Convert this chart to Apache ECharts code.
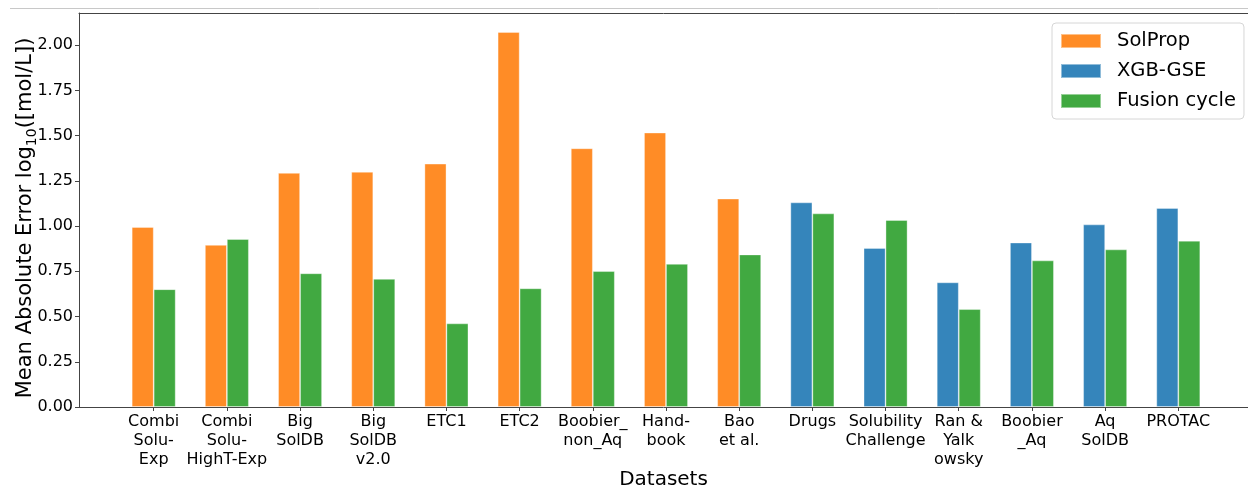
<!DOCTYPE html>
<html>
<head>
<meta charset="utf-8">
<script src="https://cdn.jsdelivr.net/npm/echarts@6/dist/echarts.min.js"></script>
<style>html,body{margin:0;padding:0;background:#fff;}#c{width:1248px;height:489px;}</style>
</head>
<body>
<div id="c"></div>
<script>
const categories = ['Combi\nSolu-\nExp','Combi\nSolu-\nHighT-Exp','Big\nSolDB','Big\nSolDB\nv2.0','ETC1','ETC2','Boobier_\nnon_Aq','Hand-\nbook','Bao\net al.','Drugs','Solubility\nChallenge','Ran &\nYalk\nowsky','Boobier\n_Aq','Aq\nSolDB','PROTAC'];
const solProp = [0.995, 0.896, 1.294, 1.300, 1.345, 2.073, 1.430, 1.517, 1.152, null, null, null, null, null, null];
const xgbGse  = [null, null, null, null, null, null, null, null, null, 1.131, 0.879, 0.689, 0.909, 1.009, 1.100];
const fusion  = [0.651, 0.928, 0.739, 0.708, 0.462, 0.656, 0.751, 0.791, 0.843, 1.070, 1.033, 0.541, 0.810, 0.871, 0.919];
const yTicks = { min: 0, max: 2.178, step: 0.25 };

const FONT = 'DejaVu Sans';
const chart = echarts.init(document.getElementById('c'), null, {renderer: 'canvas'});
const axisCol = '#444';
chart.setOption({
  animation: false,
  backgroundColor: '#fff',
  textStyle: { fontFamily: FONT },
  graphic: [{ type: 'line', shape: { x1: 10, y1: 8.5, x2: 1248, y2: 8.5 }, style: { stroke: '#c8c8c8', lineWidth: 1 } }],
  grid: [
    { left: 79, right: 0, top: 13, bottom: 82, outerBoundsMode: 'none', containLabel: false },
    { left: 117.1, right: 33.1, top: 13, bottom: 82, outerBoundsMode: 'none', containLabel: false }
  ],
  legend: {
    orient: 'vertical', left: 1052, top: 23, padding: [8, 8, 8, 8],
    backgroundColor: '#fff', borderColor: '#d6d6d6', borderWidth: 1, borderRadius: 4,
    itemWidth: 40, itemHeight: 14, itemGap: 10, icon: 'rect',
    textStyle: { fontFamily: FONT, fontSize: 19.5, color: '#000', lineHeight: 19, padding: [0, 0, 0, 11] },
    data: ['SolProp', 'XGB-GSE', 'Fusion cycle']
  },
  xAxis: [
    { gridIndex: 0, type: 'value', min: 0, max: 1, position: 'bottom',
      axisLine: { show: true, lineStyle: { color: axisCol, width: 1 } },
      axisTick: { show: false }, axisLabel: { show: false }, splitLine: { show: false },
      name: 'Datasets', nameLocation: 'middle', nameGap: 63, nameMoveOverlap: false,
      nameTextStyle: { fontFamily: FONT, fontSize: 20, color: '#000' } },
    { gridIndex: 0, type: 'value', min: 0, max: 1, position: 'top',
      axisLine: { show: true, lineStyle: { color: axisCol, width: 1 } },
      axisTick: { show: false }, axisLabel: { show: false }, splitLine: { show: false } },
    { gridIndex: 1, type: 'category', data: categories, position: 'bottom',
      axisLine: { show: false }, splitLine: { show: false },
      axisTick: { show: true, alignWithLabel: true, length: 4, lineStyle: { color: axisCol } },
      axisLabel: { fontFamily: FONT, fontSize: 16, color: '#000', lineHeight: 19.2, margin: 5, interval: 0 } }
  ],
  yAxis: [
    { gridIndex: 0, type: 'value', min: yTicks.min, max: yTicks.max, interval: yTicks.step,
      axisLine: { show: true, lineStyle: { color: axisCol, width: 1 } },
      axisTick: { show: true, length: 4, lineStyle: { color: axisCol } },
      splitLine: { show: false },
      axisLabel: { fontFamily: FONT, fontSize: 16, color: '#000', margin: 6, formatter: v => v.toFixed(2), showMaxLabel: false },
      name: 'Mean Absolute Error log{sub|10}([mol/L])', nameLocation: 'middle', nameGap: 40, nameRotate: 90, nameMoveOverlap: false,
      nameTextStyle: { fontFamily: FONT, fontSize: 21, color: '#000', lineHeight: 26, padding: [0, 16, 0, 0],
        rich: { sub: { fontFamily: FONT, fontSize: 14, verticalAlign: 'bottom', lineHeight: 14, color: '#000' } } } },
    { gridIndex: 1, type: 'value', min: yTicks.min, max: yTicks.max, interval: yTicks.step, show: false }
  ],
  series: [
    { name: 'SolProp', type: 'bar', xAxisIndex: 2, yAxisIndex: 1, stack: 'first', data: solProp,
      barWidth: '30%', barGap: '0%', itemStyle: { color: '#ff8c26', borderColor: 'rgba(255,255,255,0.45)', borderWidth: 0.8 } },
    { name: 'XGB-GSE', type: 'bar', xAxisIndex: 2, yAxisIndex: 1, stack: 'first', data: xgbGse,
      barWidth: '30%', barGap: '0%', itemStyle: { color: '#3585bb', borderColor: 'rgba(255,255,255,0.45)', borderWidth: 0.8 } },
    { name: 'Fusion cycle', type: 'bar', xAxisIndex: 2, yAxisIndex: 1, data: fusion,
      barWidth: '30%', barGap: '0%', itemStyle: { color: '#41a941', borderColor: 'rgba(255,255,255,0.45)', borderWidth: 0.8 } }
  ]
});
</script>
</body>
</html>
